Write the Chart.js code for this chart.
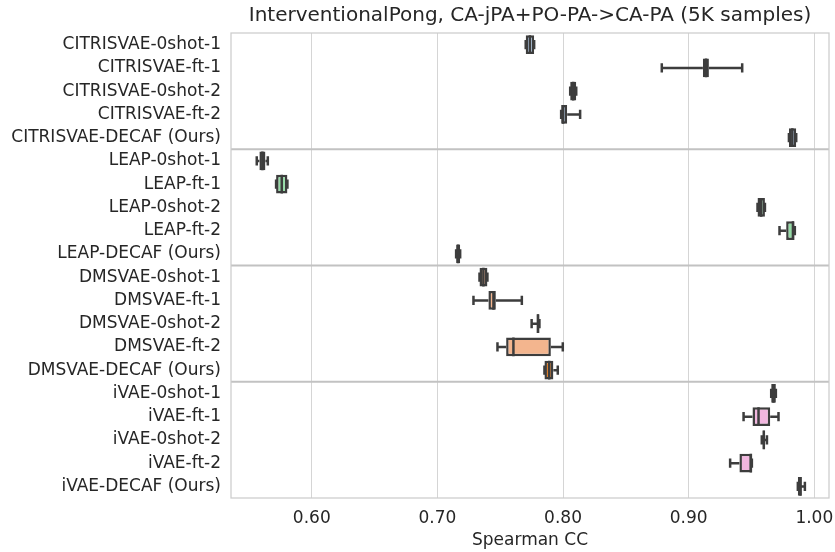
<!DOCTYPE html>
<html><head><meta charset="utf-8">
<script src="https://cdn.jsdelivr.net/npm/chart.js@4"></script>
<style>html,body{margin:0;padding:0;background:#fff}#wrap{width:835px;height:552px;position:relative}</style>
</head><body><div id="wrap"><canvas id="c"></canvas></div>
<script>
const categories = [
  "CITRISVAE-0shot-1","CITRISVAE-ft-1","CITRISVAE-0shot-2","CITRISVAE-ft-2","CITRISVAE-DECAF (Ours)",
  "LEAP-0shot-1","LEAP-ft-1","LEAP-0shot-2","LEAP-ft-2","LEAP-DECAF (Ours)",
  "DMSVAE-0shot-1","DMSVAE-ft-1","DMSVAE-0shot-2","DMSVAE-ft-2","DMSVAE-DECAF (Ours)",
  "iVAE-0shot-1","iVAE-ft-1","iVAE-0shot-2","iVAE-ft-2","iVAE-DECAF (Ours)"
];
const whiskerLow  = [0.7703,0.8786,0.8057,0.7985,0.9798, 0.5562,0.5716,0.9548,0.9723,0.7149, 0.7335,0.7287,0.7750,0.7478,0.7852, 0.9657,0.9437,0.9582,0.9330,0.9869];
const q1Values    = [0.7703,0.9113,0.8057,0.7985,0.9798, 0.5583,0.5716,0.9548,0.9776,0.7149, 0.7335,0.7406,0.7793,0.7547,0.7852, 0.9657,0.9508,0.9590,0.9404,0.9869];
const medianValues= [0.7736,0.9138,0.8081,0.8001,0.9825, 0.5607,0.5761,0.9577,0.9830,0.7165, 0.7366,0.7446,0.7800,0.7605,0.7890, 0.9675,0.9556,0.9598,0.9495,0.9890];
const q3Values    = [0.7770,0.9161,0.8105,0.8033,0.9856, 0.5631,0.5806,0.9607,0.9842,0.7181, 0.7398,0.7465,0.7812,0.7903,0.7923, 0.9694,0.9649,0.9606,0.9503,0.9900];
const whiskerHigh = [0.7770,0.9426,0.8105,0.8136,0.9856, 0.5650,0.5806,0.9607,0.9845,0.7181, 0.7398,0.7672,0.7812,0.7998,0.7958, 0.9694,0.9715,0.9623,0.9503,0.9925];
const xTickValues = [0.60,0.70,0.80,0.90,1.00];
const groupBreaks = [5,10,15];
const chartTitle = 'InterventionalPong, CA-jPA+PO-PA->CA-PA (5K samples)';
const xAxisTitle = 'Spearman CC';

const BLUE='#a7c8ea', GREEN='#95dba6', LORANGE='#f3b58e', DORANGE='#e3802a', PINK='#f2b6df';
const boxColors = [BLUE,BLUE,BLUE,BLUE,BLUE, GREEN,GREEN,GREEN,GREEN,GREEN, LORANGE,LORANGE,LORANGE,LORANGE,DORANGE, PINK,PINK,PINK,PINK,PINK];
const LINE='#3d3d3d', FONT='DejaVu Sans', TXT='#262626', LW=2.5;

const boxPlugin = {
  id:'boxparts',
  beforeDatasetsDraw(chart){
    const {ctx, chartArea:a, scales:{y}} = chart;
    ctx.save();
    ctx.strokeStyle='#c2c2c2'; ctx.lineWidth=2;
    groupBreaks.forEach(b=>{
      const yy=(y.getPixelForValue(b-1)+y.getPixelForValue(b))/2;
      ctx.beginPath(); ctx.moveTo(a.left,yy); ctx.lineTo(a.right,yy); ctx.stroke();
    });
    ctx.restore();
  },
  afterDatasetsDraw(chart){
    const {ctx, scales:{x,y}} = chart;
    const meta = chart.getDatasetMeta(0);
    ctx.save();
    ctx.strokeStyle=LINE; ctx.lineWidth=LW; ctx.lineCap='butt';
    categories.forEach((c,i)=>{
      const yy=y.getPixelForValue(i);
      const h=meta.data[i].height;
      const xl=x.getPixelForValue(whiskerLow[i]), x1=x.getPixelForValue(q1Values[i]);
      const x3=x.getPixelForValue(q3Values[i]), xh=x.getPixelForValue(whiskerHigh[i]);
      const xm=x.getPixelForValue(medianValues[i]);
      ctx.beginPath();
      ctx.moveTo(xl,yy); ctx.lineTo(x1,yy);
      ctx.moveTo(x3,yy); ctx.lineTo(xh,yy);
      ctx.moveTo(xl,yy-h/4); ctx.lineTo(xl,yy+h/4);
      ctx.moveTo(xh,yy-h/4); ctx.lineTo(xh,yy+h/4);
      ctx.moveTo(xm,yy-h/2); ctx.lineTo(xm,yy+h/2);
      ctx.stroke();
    });
    ctx.restore();
  },
  afterDraw(chart){
    const {ctx, chartArea:a} = chart;
    ctx.save(); ctx.strokeStyle='#cccccc'; ctx.lineWidth=1.25;
    ctx.strokeRect(a.left,a.top,a.right-a.left,a.bottom-a.top);
    ctx.fillStyle=TXT; ctx.font='20px "'+FONT+'"'; ctx.textAlign='center'; ctx.textBaseline='middle';
    ctx.fillText(chartTitle,(a.left+a.right)/2,16);
    ctx.restore();
  }
};

new Chart(document.getElementById('c'), {
  type:'bar',
  data:{
    labels:categories,
    datasets:[{
      data:categories.map((c,i)=>[q1Values[i],q3Values[i]]),
      backgroundColor:boxColors,
      borderColor:LINE, borderWidth:LW, borderSkipped:false,
      barPercentage:0.8, categoryPercentage:1.0
    }]
  },
  options:{
    indexAxis:'y', responsive:true, maintainAspectRatio:false, animation:false,
    layout:{padding:{left:0,right:6,top:33,bottom:0}},
    plugins:{ legend:{display:false}, tooltip:{enabled:false}, title:{display:false} },
    scales:{
      x:{type:'linear', min:0.5357, max:1.0117, position:'bottom',
        afterBuildTicks:s=>{s.ticks=xTickValues.map(v=>({value:v}));},
        ticks:{callback:v=>Number(v).toFixed(2), color:TXT, font:{family:FONT,size:17}, padding:10, maxRotation:0},
        grid:{color:'#d5d5d5', lineWidth:1, drawTicks:false},
        border:{display:false},
        title:{display:true, text:xAxisTitle, color:TXT, font:{family:FONT,size:17}, padding:{top:2,bottom:1}},
        afterFit:s=>{s.height=54; s.paddingLeft=0; s.paddingRight=0;}
      },
      y:{type:'category',
        ticks:{color:TXT, font:{family:FONT,size:17}, padding:10, autoSkip:false},
        grid:{display:false, drawTicks:false},
        border:{display:false},
        afterFit:s=>{s.width=231; s.paddingTop=0; s.paddingBottom=0;}
      }
    }
  },
  plugins:[boxPlugin]
});
</script></body></html>
